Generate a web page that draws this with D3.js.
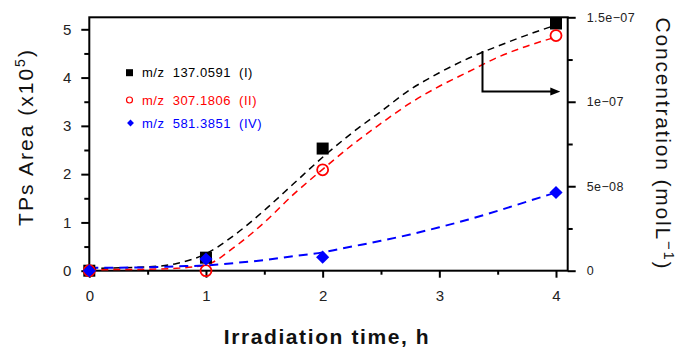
<!DOCTYPE html>
<html>
<head>
<meta charset="utf-8">
<script src="https://cdn.jsdelivr.net/npm/d3@7"></script>
<style>
  body { margin: 0; background: #fff; }
  text { font-family: "Liberation Sans", Arial, sans-serif; }
</style>
</head>
<body>
<div id="chart"></div>
<script>
// measured points (x = irradiation time in h, y = TPs area x10^5)
const times = [0, 1, 2, 4];
const seriesI = [0, 0.27, 2.53, 5.12];
const seriesII = [0, 0.0, 2.09, 4.87];
const seriesIV = [0, 0.24, 0.28, 1.62];

// fitted dashed curves
const fitTimes = [0, 0.5, 0.75, 1, 1.25, 1.5, 1.75, 2, 2.25, 2.5, 2.75, 3, 3.25, 3.5, 3.75, 4];
const fitI = [0.05, 0.08, 0.15, 0.35, 0.75, 1.25, 1.8, 2.35, 2.85, 3.3, 3.75, 4.1, 4.4, 4.65, 4.88, 5.09];
const fitII = [0.02, 0.03, 0.05, 0.12, 0.5, 1.0, 1.58, 2.1, 2.6, 3.05, 3.47, 3.82, 4.12, 4.42, 4.65, 4.84];
const fitIV = [0.06, 0.07, 0.09, 0.11, 0.16, 0.22, 0.3, 0.38, 0.5, 0.62, 0.75, 0.9, 1.06, 1.24, 1.43, 1.62];

const legendLabels = ["m/z  137.0591  (I)", "m/z  307.1806  (II)", "m/z  581.3851  (IV)"];
const xTicks = [0, 1, 2, 3, 4];
const yTicks = [0, 1, 2, 3, 4, 5];
const rightTicks = [0, 5e-8, 1e-7, 1.5e-7];
const rightTickLabels = ["0", "5e\u221208", "1e\u221207", "1.5e\u221207"];
const arrowPts = [[3.37, 4.55], [3.37, 3.71], [3.96, 3.71]];

const width = 682, height = 352;
const mLeft = 89.3, mRight = 567.7, mTop = 17.3, mBottom = 270.7;

const x = d3.scaleLinear().domain([0, 4]).range([mLeft, 556]);
const y = d3.scaleLinear().domain([0, 5]).range([mBottom, 29.3]);
const yR = d3.scaleLinear().domain([0, 1.5e-7]).range([mBottom, mTop]);

const svg = d3.select("#chart").append("svg")
  .attr("width", width)
  .attr("height", height);

// frame: left, top, right, bottom lines
svg.append("rect")
  .attr("x", mLeft).attr("y", mTop)
  .attr("width", mRight - mLeft).attr("height", mBottom - mTop)
  .attr("fill", "none").attr("stroke", "black").attr("stroke-width", 2);

// left axis
const gl = svg.append("g").attr("transform", `translate(${mLeft},0)`);
gl.call(d3.axisLeft(y).tickValues(yTicks).tickSize(8).tickPadding(10).tickFormat(d3.format("d")));
gl.append("g").call(d3.axisLeft(y).tickValues([0.5, 1.5, 2.5, 3.5, 4.5]).tickSize(5).tickFormat(""));

// bottom axis
const gb = svg.append("g").attr("transform", `translate(0,${mBottom})`);
gb.call(d3.axisBottom(x).tickValues(xTicks).tickSize(7).tickPadding(13).tickFormat(d3.format("d")));
gb.append("g").call(d3.axisBottom(x).tickValues([0.5, 1.5, 2.5, 3.5]).tickSize(4).tickFormat(""));

// right axis
const gr = svg.append("g").attr("transform", `translate(${mRight},0)`);
gr.call(d3.axisRight(yR).tickValues(rightTicks).tickSize(8).tickPadding(11)
  .tickFormat((d, i) => rightTickLabels[i]));
gr.append("g").call(d3.axisRight(yR).tickValues([2.5e-8, 7.5e-8, 1.25e-7]).tickSize(5).tickFormat(""));

svg.selectAll(".domain").attr("stroke", "none");
svg.selectAll(".tick line").attr("stroke", "black").attr("stroke-width", 2);
gl.selectAll(".tick text").attr("font-size", 15).attr("fill", "#222");
gb.selectAll(".tick text").attr("font-size", 15).attr("fill", "#222");
gr.selectAll(".tick text").attr("font-size", 12.5).attr("fill", "#222").attr("letter-spacing", 0.4);

// dashed fit curves
const line = d3.line().x(d => x(d[0])).y(d => y(d[1])).curve(d3.curveMonotoneX);
const fits = [
  { vals: fitI, color: "black", w: 1.5, dash: "7,5" },
  { vals: fitII, color: "red", w: 1.5, dash: "7,5" },
  { vals: fitIV, color: "blue", w: 2, dash: "9,6" }
];
svg.append("g").selectAll("path")
  .data(fits)
  .join("path")
  .attr("fill", "none")
  .attr("stroke", d => d.color)
  .attr("stroke-width", d => d.w)
  .attr("stroke-dasharray", d => d.dash)
  .attr("d", d => line(fitTimes.map((t, i) => [t, d.vals[i]])));

// markers
svg.append("g").selectAll("rect")
  .data(times.map((t, i) => [t, seriesI[i]]))
  .join("rect")
  .attr("x", d => x(d[0]) - 6).attr("y", d => y(d[1]) - 6)
  .attr("width", 12).attr("height", 12)
  .attr("fill", "black");

svg.append("g").selectAll("circle")
  .data(times.map((t, i) => [t, seriesII[i]]))
  .join("circle")
  .attr("cx", d => x(d[0])).attr("cy", d => y(d[1]))
  .attr("r", 5.5)
  .attr("fill", "none").attr("stroke", "red").attr("stroke-width", 1.8);

const diamond = d3.symbol().type(d3.symbolDiamond2).size(110);
svg.append("g").selectAll("path")
  .data(times.map((t, i) => [t, seriesIV[i]]))
  .join("path")
  .attr("transform", d => `translate(${x(d[0])},${y(d[1])})`)
  .attr("d", diamond)
  .attr("fill", "blue");

// arrow pointing to the right axis
svg.append("defs").append("marker")
  .attr("id", "arr")
  .attr("viewBox", "0 0 10 10")
  .attr("refX", 1).attr("refY", 5)
  .attr("markerWidth", 5).attr("markerHeight", 5)
  .attr("markerUnits", "strokeWidth")
  .attr("orient", "auto")
  .append("path").attr("d", "M0,1L10,5L0,9Z").attr("fill", "black");

svg.append("path")
  .attr("d", d3.line().x(d => x(d[0])).y(d => y(d[1]))(arrowPts))
  .attr("fill", "none")
  .attr("stroke", "black")
  .attr("stroke-width", 2)
  .attr("marker-end", "url(#arr)");

// legend
const legendColors = ["black", "red", "blue"];
const legendY = [72.7, 100, 123];
const lg = svg.append("g");
legendLabels.forEach((lab, i) => {
  const cy = legendY[i];
  if (i === 0) {
    lg.append("rect").attr("x", 126).attr("y", cy - 3.5).attr("width", 7).attr("height", 7).attr("fill", "black");
  } else if (i === 1) {
    lg.append("circle").attr("cx", 129.5).attr("cy", cy).attr("r", 3)
      .attr("fill", "none").attr("stroke", "red").attr("stroke-width", 1.2);
  } else {
    lg.append("path").attr("transform", `translate(130.5,${cy})`)
      .attr("d", d3.symbol().type(d3.symbolDiamond2).size(30)).attr("fill", "blue");
  }
  lg.append("text")
    .attr("x", 142).attr("y", cy + 4.5)
    .attr("font-size", 13)
    .attr("letter-spacing", 0.5)
    .attr("fill", legendColors[i])
    .style("white-space", "pre")
    .text(lab);
});

// axis titles
const yTitle = svg.append("text")
  .attr("transform", "translate(33,137) rotate(-90)")
  .attr("text-anchor", "middle")
  .attr("font-size", 21)
  .attr("letter-spacing", 2)
  .attr("fill", "#111");
yTitle.append("tspan").text("TPs Area (x10");
yTitle.append("tspan").attr("font-size", 14).attr("dy", -8).text("5");
yTitle.append("tspan").attr("dy", 8).text(")");

const rTitle = svg.append("text")
  .attr("transform", "translate(656,144) rotate(90)")
  .attr("text-anchor", "middle")
  .attr("font-size", 21)
  .attr("letter-spacing", 1.8)
  .attr("fill", "#111");
rTitle.append("tspan").text("Concentration (molL");
rTitle.append("tspan").attr("font-size", 15).attr("dy", -8).text("\u22121");
rTitle.append("tspan").attr("dy", 8).text(")");

svg.append("text")
  .attr("x", 327).attr("y", 344)
  .attr("text-anchor", "middle")
  .attr("font-size", 21)
  .attr("font-weight", "bold")
  .attr("letter-spacing", 1.6)
  .attr("fill", "#111")
  .text("Irradiation time, h");
</script>
</body>
</html>
